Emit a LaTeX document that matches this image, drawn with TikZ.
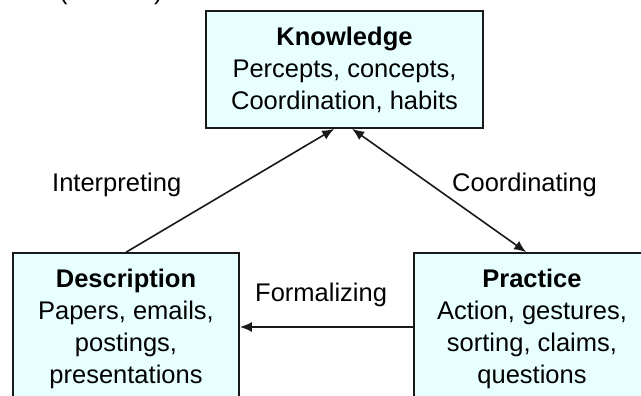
\documentclass[tikz,border=0pt]{standalone}
\usepackage{fontspec}
\setmainfont{Liberation Sans}
\usetikzlibrary{arrows.meta}
\definecolor{boxfill}{RGB}{232,255,255}
\definecolor{ink}{RGB}{25,25,25}
\begin{document}
\begin{tikzpicture}[x=1pt,y=-1pt,
  box/.style={draw=ink, line width=1.7pt, fill=boxfill, align=center, inner sep=0pt,
    font=\fontsize{25.5}{32}\selectfont},
  lbl/.style={anchor=base west, inner sep=0pt, font=\fontsize{25.5}{32}\selectfont},
  arr/.style={draw=ink, line width=1.6pt, -{Latex[length=12pt,width=10pt]}},
  arrboth/.style={draw=ink, line width=1.6pt, {Latex[length=12pt,width=10pt]}-{Latex[length=12pt,width=10pt]}}]
\useasboundingbox (0,0) rectangle (641,396);
\fill[white] (0,0) rectangle (641,396);
% cut-off text at top (only the lower ends show, as in the reference)
\node[lbl] (lp) at (59,0) {(};
\node[lbl] (rp) at (154,0) {)};
% boxes
\node[box, minimum width=277pt, minimum height=117pt] (know) at (344.5,69.5)
  {\textbf{Knowledge}\\Percepts, concepts,\\Coordination, habits};
\node[box, minimum width=226pt, minimum height=152pt] (desc) at (126,329)
  {\textbf{Description}\\Papers, emails,\\postings,\\presentations};
\node[box, minimum width=236pt, minimum height=152pt] (prac) at (532,329)
  {\textbf{Practice}\\Action, gestures,\\sorting, claims,\\questions};
% connectors
\draw[arr] ([xshift=114pt]desc.north west) -- ([xshift=129pt]know.south west);
\draw[arrboth] ([xshift=147pt]know.south west) -- ([xshift=113pt]prac.north west);
\draw[arr] ([yshift=2pt]prac.west) -- ([yshift=2pt]desc.east);
% labels
\node[lbl] (interp) at (52,192) {Interpreting};
\node[lbl] (coord) at (452,192) {Coordinating};
\node[lbl] (formal) at (255,301) {Formalizing};
\end{tikzpicture}
\end{document}
